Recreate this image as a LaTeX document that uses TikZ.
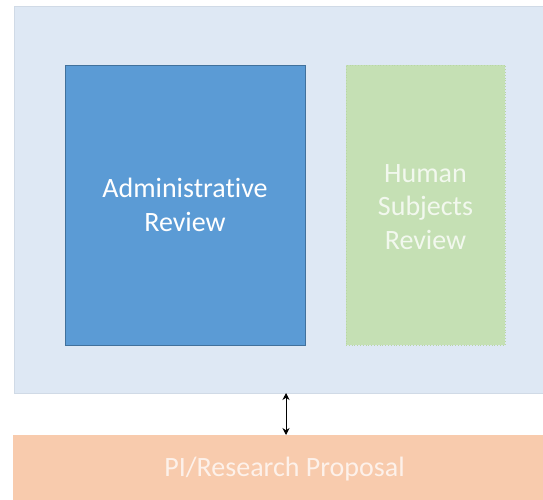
\documentclass[tikz,border=0pt]{standalone}
\usepackage{fontspec}
\setmainfont{Carlito}[Ligatures={NoCommon}]
\usetikzlibrary{arrows.meta}
\definecolor{outerfill}{HTML}{DEE8F4}
\definecolor{outerline}{HTML}{D0DAE6}
\definecolor{bluefill}{HTML}{5B9BD5}
\definecolor{blueline}{HTML}{41719C}
\definecolor{greenfill}{HTML}{C5E0B4}
\definecolor{greenline}{HTML}{B8D6A4}
\definecolor{orangefill}{HTML}{F8CBAD}
\definecolor{greentext}{HTML}{F2F8EE}
\definecolor{orangetext}{HTML}{FDF1EA}
\tikzset{
  panel/.style={rectangle, anchor=north west, inner sep=0pt, outer sep=0pt},
  label28/.style={font=\fontsize{28}{33.5}\selectfont, align=center},
}
\begin{document}
\begin{tikzpicture}[x=1pt,y=-1pt]
\useasboundingbox (0,0) rectangle (543,500);
\node[panel, fill=outerfill, draw=outerline, line width=1pt, minimum width=540pt, minimum height=386pt] (outer) at (14,7) {};
\node[panel, fill=bluefill, draw=blueline, line width=0.9pt, minimum width=240pt, minimum height=280pt] (admin) at (65,65) {};
\node[panel, fill=greenfill, draw=greenline, dotted, line width=0.8pt, minimum width=159pt, minimum height=280pt] (human) at (346,65) {};
\node[panel, fill=orangefill, minimum width=545pt, minimum height=80pt] (pi) at (13,435) {};
\node[label28, text=white] (admintext) at (admin.center) {Administrative\\Review};
\node[label28, text=greentext] (humantext) at ([yshift=-2pt]human.center) {Human\\Subjects\\Review};
\node[label28, text=orangetext, anchor=base] (pitext) at (284.5,476) {PI/Research Proposal};
\coordinate (ax) at (286,0);
\draw[{Stealth[length=7pt,width=7pt]}-{Stealth[length=7pt,width=7pt]}, line width=0.9pt, black] (outer.south -| ax) -- (pi.north -| ax);
\end{tikzpicture}
\end{document}
